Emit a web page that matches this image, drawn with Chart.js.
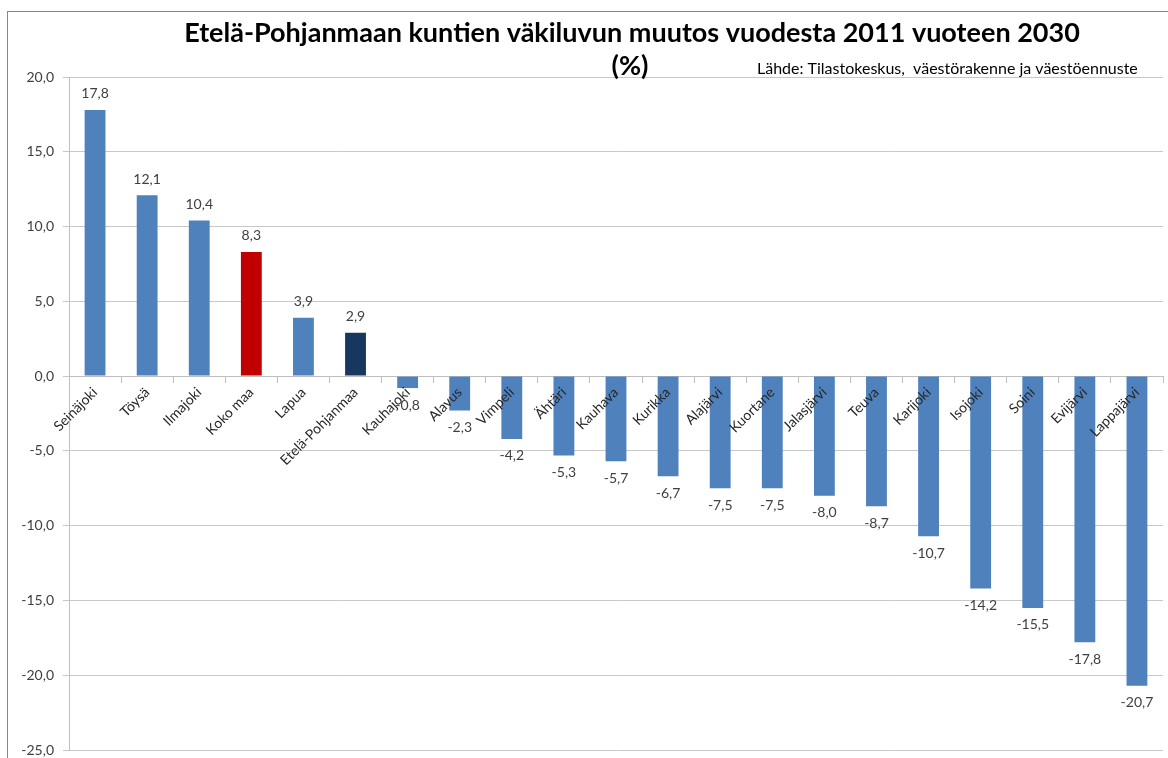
<!DOCTYPE html>
<html>
<head>
<meta charset="utf-8">
<script src="https://cdn.jsdelivr.net/npm/chart.js@4.4.1/dist/chart.umd.min.js"></script>
<style>
  body { margin: 0; background: #fff; }
  #wrap { width: 1168px; height: 758px; }
</style>
</head>
<body>
<div id="wrap"><canvas id="chart" width="1168" height="758"></canvas></div>
<script>
// Väkiluvun muutos 2011–2030, %
const kunnat = [
    "Seinäjoki", "Töysä", "Ilmajoki", "Koko maa", "Lapua", "Etelä-Pohjanmaa",
    "Kauhajoki", "Alavus", "Vimpeli", "Ähtäri", "Kauhava", "Kurikka", "Alajärvi",
    "Kuortane", "Jalasjärvi", "Teuva", "Karijoki", "Isojoki", "Soini", "Evijärvi", "Lappajärvi"
];
const muutos = [
    17.8, 12.1, 10.4, 8.3, 3.9, 2.9,
    -0.8, -2.3, -4.2, -5.3, -5.7, -6.7, -7.5,
    -7.5, -8.0, -8.7, -10.7, -14.2, -15.5, -17.8, -20.7
];
const yMin = -25;
const yMax = 20;
const yStep = 5;

const otsikko = "Etelä-Pohjanmaan kuntien väkiluvun muutos vuodesta 2011 vuoteen 2030";
const otsikko2 = "(%)";
const lahde = "Lähde: Tilastokeskus,  väestörakenne ja väestöennuste";

const FONT = "Lato, 'Open Sans', sans-serif";

function fmt(v) {
    return v.toFixed(1).replace(".", ",");
}

function barColor(name) {
    if (name === "Koko maa") return "#C00000";
    if (name === "Etelä-Pohjanmaa") return "#17375E";
    return "#4F81BD";
}

// numbers above / below the bars
const arvoTekstit = {
    id: "arvoTekstit",
    afterDatasetsDraw(chart) {
        const ctx = chart.ctx;
        const meta = chart.getDatasetMeta(0);
        ctx.save();
        ctx.font = "14px " + FONT;
        ctx.fillStyle = "#404040";
        ctx.textAlign = "center";
        ctx.textBaseline = "middle";
        meta.data.forEach((bar, i) => {
            const v = muutos[i];
            const y = v >= 0 ? bar.y - 16 : bar.y + 17;
            ctx.fillText(fmt(v), bar.x, y);
        });
        ctx.restore();
    }
};

// frame, title and source line
const kehys = {
    id: "kehys",
    afterDraw(chart) {
        const ctx = chart.ctx;
        ctx.save();
        ctx.strokeStyle = "#868686";
        ctx.lineWidth = 1;
        ctx.strokeRect(7.5, 11.5, 1300, 900);

        ctx.fillStyle = "#000";
        ctx.textAlign = "center";
        ctx.textBaseline = "middle";
        ctx.font = "bold 27px " + FONT;
        ctx.fillText(otsikko, 632, 33);
        ctx.fillText(otsikko2, 630, 66);

        ctx.textAlign = "left";
        ctx.font = "16px " + FONT;
        ctx.fillText(lahde, 757, 69);
        ctx.restore();
    }
};

new Chart(document.getElementById("chart"), {
    type: "bar",
    data: {
        labels: kunnat,
        datasets: [{
            data: muutos,
            backgroundColor: kunnat.map(barColor),
            borderWidth: 0,
            barPercentage: 0.4,
            categoryPercentage: 1.0
        }]
    },
    options: {
        responsive: false,
        animation: false,
        layout: {
            padding: { left: 0, right: 5, top: 77, bottom: 8 }
        },
        plugins: {
            legend: { display: false },
            tooltip: { enabled: false }
        },
        scales: {
            x: {
                position: { y: 0 },
                afterFit(scale) { scale.height = 0; },
                grid: {
                    display: true,
                    drawOnChartArea: false,
                    drawTicks: true,
                    tickLength: 6,
                    color: "#bfbfbf",
                    offset: true
                },
                border: { display: true, color: "#bfbfbf", width: 1 },
                ticks: {
                    z: 1,
                    autoSkip: false,
                    minRotation: 45,
                    maxRotation: 45,
                    padding: 2,
                    color: "#262626",
                    font: { family: FONT, size: 14 }
                }
            },
            y: {
                min: yMin,
                max: yMax,
                afterFit(scale) {
                    scale.width = 69;
                    scale.paddingTop = 0;
                    scale.paddingBottom = 0;
                },
                grid: {
                    color: "#c8c8c8",
                    tickLength: 6,
                    drawTicks: true
                },
                border: { display: true, color: "#bfbfbf" },
                ticks: {
                    stepSize: yStep,
                    padding: 9,
                    color: "#404040",
                    font: { family: FONT, size: 14 },
                    callback: v => fmt(v)
                }
            }
        }
    },
    plugins: [arvoTekstit, kehys]
});
</script>
</body>
</html>
